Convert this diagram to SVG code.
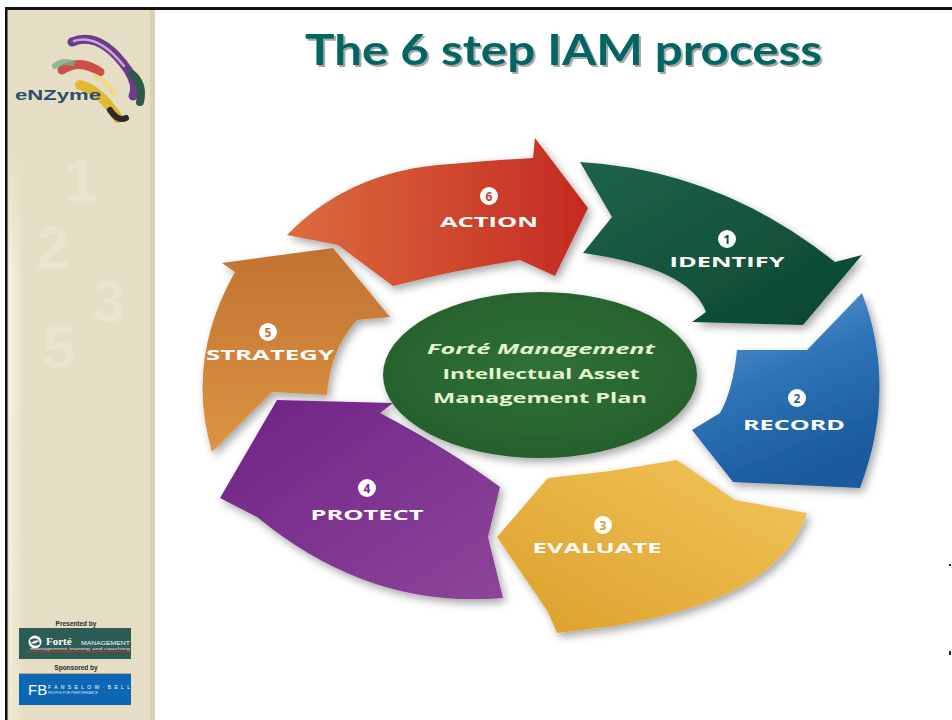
<svg xmlns="http://www.w3.org/2000/svg" width="952" height="720" viewBox="0 0 952 720">
  <defs>
    <style>
      .lbl { font-family: "Open Sans", "Liberation Sans", sans-serif; font-weight: 700; font-size: 15px; fill: #ffffff; text-anchor: middle; }
      .num { font-family: "Open Sans", "Liberation Sans", sans-serif; font-weight: 700; font-size: 12px; text-anchor: middle; }
      .core { font-family: "Open Sans", "Liberation Sans", sans-serif; font-weight: 700; font-size: 15px; fill: #e4f5cf; text-anchor: middle; }
      .side { font-family: "Liberation Sans", Arial, sans-serif; font-weight: 700; font-size: 6.5px; fill: #2a2a2a; text-anchor: middle; }
      .ghost { font-family: "Liberation Sans", Arial, sans-serif; font-weight: 700; font-size: 60px; fill: #eae3cd; }
    </style>
    <filter id="shadow" x="-20%" y="-20%" width="150%" height="150%">
      <feDropShadow dx="3" dy="4" stdDeviation="4" flood-color="#000" flood-opacity="0.35"/>
    </filter>
    <filter id="titleShadow" x="-5%" y="-20%" width="110%" height="150%">
      <feDropShadow dx="2" dy="2" stdDeviation="0.6" flood-color="#8a8a8a" flood-opacity="0.75"/>
    </filter>
    <linearGradient id="gAction" x1="0" y1="0" x2="1" y2="0">
      <stop offset="0" stop-color="#dc6c3e"/>
      <stop offset="1" stop-color="#c42a22"/>
    </linearGradient>
    <linearGradient id="gIdentify" x1="0" y1="0" x2="1" y2="1">
      <stop offset="0" stop-color="#1f634a"/>
      <stop offset="1" stop-color="#0b4630"/>
    </linearGradient>
    <linearGradient id="gRecord" x1="0" y1="0" x2="0.4" y2="1">
      <stop offset="0" stop-color="#6aa4da"/>
      <stop offset="0.5" stop-color="#2f74b8"/>
      <stop offset="1" stop-color="#1a5a9e"/>
    </linearGradient>
    <linearGradient id="gEvaluate" x1="1" y1="0" x2="0" y2="1">
      <stop offset="0" stop-color="#f2c65a"/>
      <stop offset="1" stop-color="#dc9f2c"/>
    </linearGradient>
    <linearGradient id="gProtect" x1="0" y1="0" x2="1" y2="1">
      <stop offset="0" stop-color="#6f2386"/>
      <stop offset="1" stop-color="#8d4599"/>
    </linearGradient>
    <linearGradient id="gStrategy" x1="0" y1="0" x2="0" y2="1">
      <stop offset="0" stop-color="#c27230"/>
      <stop offset="1" stop-color="#dc9444"/>
    </linearGradient>
    <radialGradient id="gCore" cx="0.5" cy="0.45" r="0.6">
      <stop offset="0" stop-color="#2f7136"/>
      <stop offset="1" stop-color="#265f2d"/>
    </radialGradient>
    <linearGradient id="gSheenX" x1="0" y1="0" x2="1" y2="0">
      <stop offset="0" stop-color="#fbf7ea" stop-opacity="0.8"/>
      <stop offset="1" stop-color="#fbf7ea" stop-opacity="0"/>
    </linearGradient>
    <linearGradient id="gSheenY" x1="0" y1="0" x2="0" y2="1">
      <stop offset="0" stop-color="#fff" stop-opacity="0"/>
      <stop offset="0.25" stop-color="#fff" stop-opacity="1"/>
      <stop offset="1" stop-color="#fff" stop-opacity="0.6"/>
    </linearGradient>
    <mask id="sheenMask">
      <rect x="9" y="140" width="16" height="580" fill="url(#gSheenY)"/>
    </mask>
  </defs>

  <rect x="0" y="0" width="952" height="720" fill="#ffffff"/>

  <!-- side panel -->
  <g id="sidebar">
    <rect x="7" y="9" width="148" height="711" fill="#e5dec4"/>
    <rect x="150" y="9" width="5" height="711" fill="#d9d1b4"/>
    <rect x="9" y="140" width="16" height="580" fill="url(#gSheenX)" mask="url(#sheenMask)"/>
    <text class="ghost" x="64" y="201">1</text>
    <text class="ghost" x="36" y="268">2</text>
    <text class="ghost" x="92" y="322">3</text>
    <text class="ghost" x="42" y="368">5</text>
  </g>

  <!-- eNZyme logo -->
  <g id="logo">
    <path d="M62,70 Q80,58 100,72" fill="none" stroke="#c8413a" stroke-width="9" stroke-linecap="round" opacity="0.9"/>
    <path d="M55,66 Q62,60 72,63" fill="none" stroke="#7cae86" stroke-width="6" stroke-linecap="round" opacity="0.8"/>
    <path d="M80,85 Q100,90 118,118" fill="none" stroke="#e2b830" stroke-width="10" stroke-linecap="round"/>
    <path d="M110,110 Q118,122 126,118" fill="none" stroke="#2a2a2a" stroke-width="6" stroke-linecap="round"/>
    <path d="M72,42 Q100,30 128,70 Q138,86 133,96" fill="none" stroke="#6c3b8c" stroke-width="9" stroke-linecap="round"/>
    <path d="M74,41 Q98,33 124,66" fill="none" stroke="#c9a6d8" stroke-width="2.5" stroke-linecap="round"/>
    <path d="M132,74 Q144,84 140,102" fill="none" stroke="#2e5a48" stroke-width="8" stroke-linecap="round"/>
    <path d="M95,76 Q108,82 114,94" fill="none" stroke="#f1d98a" stroke-width="5" stroke-linecap="round"/>
    <text x="15" y="100" font-family="'Liberation Sans', Arial, sans-serif" font-weight="700" font-size="14" fill="#2d4c6b" textLength="86" lengthAdjust="spacingAndGlyphs">eNZyme</text>
  </g>

  <!-- slide frame -->
  <rect x="5" y="7" width="947" height="3" fill="#111111"/>
  <rect x="5" y="7" width="2.5" height="713" fill="#111111"/>

  <!-- title -->
  <g id="title">
    <text x="305" y="65" font-family="Lato, 'Open Sans', sans-serif" font-weight="700" font-size="42" fill="#006664" filter="url(#titleShadow)" textLength="517" lengthAdjust="spacingAndGlyphs">The 6 step IAM process</text>
  </g>

  <!-- process cycle: each arrow is one step -->
  <g id="connectors" filter="url(#shadow)">
    <path id="arrow-action" d="M287,235 Q350,170 450,164 Q495,160 533,158 L535,138 L588,208 L555,276 L520,260 Q455,270 393,286 L338,245 Z" fill="url(#gAction)"/>
    <path id="arrow-identify" d="M580,162 Q720,170 835,262 L862,255 L803,325 L692,322 L706,312 Q690,268 583,253 L612,217 Z" fill="url(#gIdentify)"/>
    <path id="arrow-record" d="M862,293 Q898,388 860,488 L733,482 L692,430 L720,413 Q733,390 737,350 L807,350 Z" fill="url(#gRecord)"/>
    <path id="arrow-evaluate" d="M548,478 L610,471 L677,460 L735,500 L807,513 Q780,600 607,627 L557,633 L548,612 L497,537 Z" fill="url(#gEvaluate)"/>
    <path id="arrow-protect" d="M277,400 L393,403 L380,413 Q450,450 500,487 L488,537 L503,598 Q370,610 257,517 L220,498 Z" fill="url(#gProtect)"/>
    <path id="arrow-strategy" d="M222,263 L333,248 L390,317 L357,320 Q330,350 327,395 L272,392 L212,452 Q185,360 235,272 Z" fill="url(#gStrategy)"/>
  </g>

  <g id="step-action">
    <circle cx="489" cy="196" r="9" fill="#ffffff"/>
    <text class="num" x="489" y="200.5" fill="#c8402c">6</text>
    <text class="lbl" x="489" y="227" textLength="98" lengthAdjust="spacingAndGlyphs">ACTION</text>
  </g>
  <g id="step-identify">
    <circle cx="727" cy="239" r="9" fill="#ffffff"/>
    <text class="num" x="727" y="243.5" fill="#0f4a33">1</text>
    <text class="lbl" x="727" y="267" textLength="115" lengthAdjust="spacingAndGlyphs">IDENTIFY</text>
  </g>
  <g id="step-record">
    <circle cx="797" cy="398" r="9" fill="#ffffff"/>
    <text class="num" x="797" y="402.5" fill="#2566aa">2</text>
    <text class="lbl" x="794" y="430" textLength="102" lengthAdjust="spacingAndGlyphs">RECORD</text>
  </g>
  <g id="step-evaluate">
    <circle cx="603" cy="525" r="9" fill="#ffffff"/>
    <text class="num" x="603" y="529.5" fill="#d99c2e">3</text>
    <text class="lbl" x="597" y="553" textLength="129" lengthAdjust="spacingAndGlyphs">EVALUATE</text>
  </g>
  <g id="step-protect">
    <circle cx="367" cy="488" r="9" fill="#ffffff"/>
    <text class="num" x="367" y="492.5" fill="#73288a">4</text>
    <text class="lbl" x="367" y="520" textLength="113" lengthAdjust="spacingAndGlyphs">PROTECT</text>
  </g>
  <g id="step-strategy">
    <circle cx="268" cy="332" r="9" fill="#ffffff"/>
    <text class="num" x="268" y="336.5" fill="#c57634">5</text>
    <text class="lbl" x="270" y="360" textLength="128" lengthAdjust="spacingAndGlyphs">STRATEGY</text>
  </g>

  <!-- central plan -->
  <g id="plan" filter="url(#shadow)">
    <ellipse cx="540" cy="375" rx="157" ry="83" fill="url(#gCore)"/>
  </g>
  <g id="plan-text">
    <text class="core" x="541" y="354" font-style="italic" textLength="228" lengthAdjust="spacingAndGlyphs">Forté  Management</text>
    <text class="core" x="541" y="379" textLength="197" lengthAdjust="spacingAndGlyphs">Intellectual Asset</text>
    <text class="core" x="540" y="403" textLength="214" lengthAdjust="spacingAndGlyphs">Management Plan</text>
  </g>

  <!-- presenter and sponsor -->
  <g id="presenter">
    <text class="side" x="76" y="626">Presented by</text>
    <rect x="19" y="628" width="112" height="31" fill="#2c5c55"/>
    <circle cx="35" cy="642" r="6.5" fill="#ffffff"/>
    <path d="M30,640 Q35,636 40,641 Q35,639 31,643 Z M40,644 Q35,648 30,643 Q35,645 39,641 Z" fill="#2c5c55"/>
    <text x="46" y="644.5" font-family="'Liberation Serif', serif" font-weight="700" font-size="11" fill="#ffffff">Forté</text>
    <text x="81" y="644.5" font-family="'Liberation Sans', Arial, sans-serif" font-size="6" fill="#ffffff" textLength="49" lengthAdjust="spacingAndGlyphs">MANAGEMENT</text>
    <text x="30" y="650.3" font-family="'Liberation Sans', Arial, sans-serif" font-size="2.6" fill="#d8e4e0" textLength="100" lengthAdjust="spacingAndGlyphs">management training and coaching</text>
    <rect x="28" y="651" width="103" height="1.2" fill="#d02a25"/>
  </g>
  <g id="sponsor">
    <text class="side" x="76" y="670">Sponsored by</text>
    <rect x="19" y="673" width="112" height="1" fill="#b8ad8a"/>
    <rect x="19" y="674" width="112" height="31" fill="#0b66b4"/>
    <text x="28" y="695" font-family="'Liberation Sans', Arial, sans-serif" font-size="15" fill="#ffffff">FB</text>
    <text x="48" y="689" font-family="'Liberation Sans', Arial, sans-serif" font-size="5" fill="#ffffff" textLength="82" lengthAdjust="spacing">FANSELOW·BELL</text>
    <text x="48" y="694" font-family="'Liberation Sans', Arial, sans-serif" font-size="3" fill="#cfe0f2" textLength="50" lengthAdjust="spacingAndGlyphs">PEOPLE FOR PERFORMANCE</text>
  </g>

  <!-- marks at the right edge -->
  <rect x="949" y="564" width="2" height="2" fill="#222222"/>
  <rect x="949" y="651" width="2" height="4" fill="#222222"/>
</svg>
